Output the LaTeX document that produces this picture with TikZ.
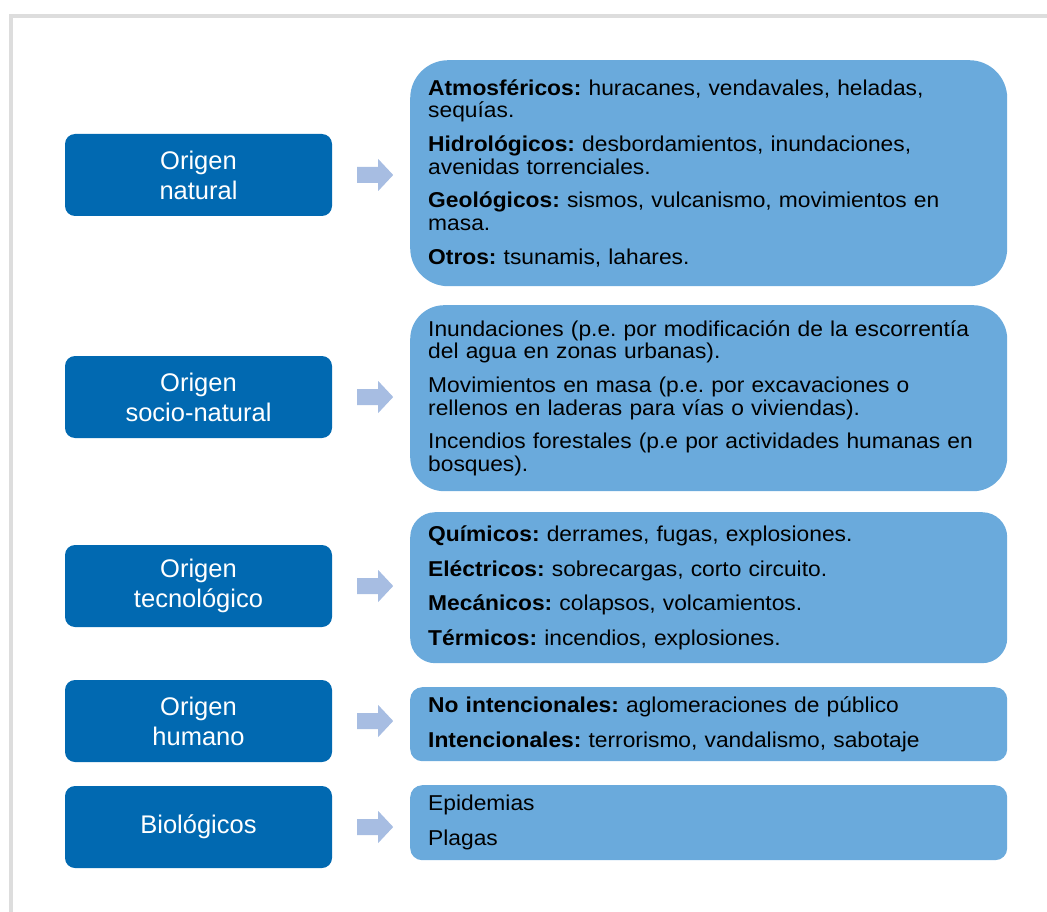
\documentclass[tikz,border=0pt]{standalone}
\usepackage{fontspec}
\setmainfont{Liberation Sans}
\newfontfamily\detallefont{Liberation Sans}[FakeStretch=1.06]
\usepackage{tikz}
\usetikzlibrary{positioning}
\frenchspacing
\definecolor{origenblue}{RGB}{1,105,177}
\definecolor{detalleblue}{RGB}{106,170,220}
\definecolor{flechablue}{RGB}{167,189,226}
\definecolor{marco}{RGB}{221,221,221}

\tikzset{
  origen/.style={fill=origenblue, text=white, rounded corners=10pt, inner sep=0pt,
    minimum width=267pt, minimum height=82pt, align=center,
    font=\fontsize{25.5}{30}\selectfont},
  detalle/.style={fill=detalleblue, text=black, anchor=north west, align=left,
    text width=561pt, inner xsep=18pt, inner ysep=0pt,
    font=\detallefont\fontsize{21.5}{22.7}\selectfont},
  flecha/.style={fill=flechablue}
}

\begin{document}
\begin{tikzpicture}[x=1pt,y=-1pt]
      \useasboundingbox (0,0) rectangle (1047,912);
      % frame
      \draw[marco, line width=4pt] (11,912) -- (11,16) -- (1047,16);
      % origin boxes
      \node[origen] (natural) at (198.5,175) {Origen\\natural};
      \node[origen] (socio) at (198.5,397) {Origen\\socio-natural};
      \node[origen] (tecno) at (198.5,586) {Origen\\tecnológico};
      \node[origen] (humano) at (198.5,721) {Origen\\humano};
      \node[origen] (bio) at (198.5,827) {Biológicos};
      % detail boxes
      \node[detalle, rounded corners=38pt, minimum height=226pt] (dnatural) at (410,60)
        {\textbf{Atmosféricos:} huracanes, vendavales, heladas,\\sequías.\\[11pt]
         \textbf{Hidrológicos:} desbordamientos, inundaciones,\\avenidas torrenciales.\\[11pt]
         \textbf{Geológicos:} sismos, vulcanismo, movimientos en\\masa.\\[11pt]
         \textbf{Otros:} tsunamis, lahares.};
      \node[detalle, rounded corners=34pt, minimum height=186pt] (dsocio) at (410,305)
        {Inundaciones (p.e. por modificación de la escorrentía\\del agua en zonas urbanas).\\[11pt]
         Movimientos en masa (p.e. por excavaciones o\\rellenos en laderas para vías o viviendas).\\[11pt]
         Incendios forestales (p.e por actividades humanas en\\bosques).};
      \node[detalle, rounded corners=25pt, minimum height=151pt] (dtecno) at (410,512)
        {\textbf{Químicos:} derrames, fugas, explosiones.\\[12pt]
         \textbf{Eléctricos:} sobrecargas, corto circuito.\\[12pt]
         \textbf{Mecánicos:} colapsos, volcamientos.\\[12pt]
         \textbf{Térmicos:} incendios, explosiones.};
      \node[detalle, rounded corners=12pt, minimum height=74pt] (dhumano) at (410,687)
        {\textbf{No intencionales:} aglomeraciones de público\\[12pt]
         \textbf{Intencionales:} terrorismo, vandalismo, sabotaje};
      \node[detalle, rounded corners=12pt, minimum height=75pt] (dbio) at (410,785)
        {Epidemias\\[12pt]
         Plagas};
      % arrows
      \foreach \n in {natural,socio,tecno,humano,bio}
        \fill[flecha] ([xshift=25pt]\n.east) ++(0,-8) -- ++(21,0) -- ++(0,-8)
          -- ++(15,16) -- ++(-15,16) -- ++(0,-8) -- ++(-21,0) -- cycle;
\end{tikzpicture}
\end{document}
